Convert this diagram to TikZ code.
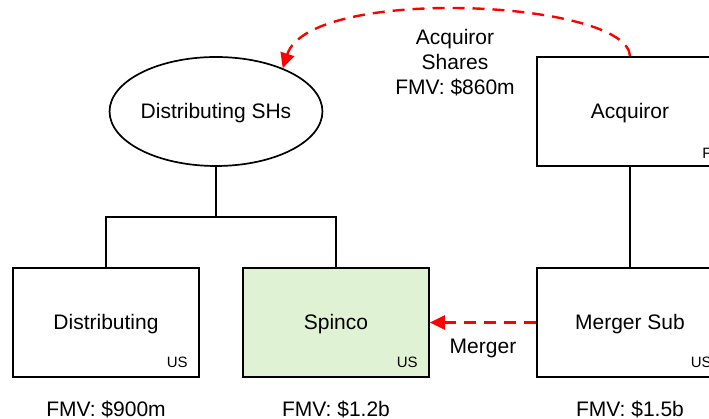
\documentclass[tikz,border=0pt]{standalone}
\usepackage{fontspec}
\setmainfont{Liberation Sans}
\usetikzlibrary{arrows.meta,shapes.geometric}
\definecolor{spingreen}{RGB}{223,242,211}
\begin{document}
\begin{tikzpicture}[x=1pt,y=-1pt,
  every node/.style={font=\fontsize{21}{25}\selectfont},
  entity/.style={draw,line width=1.7pt,minimum width=186pt,minimum height=109pt,inner sep=0pt,text height=15pt,text depth=0pt},
  tag/.style={anchor=south east,inner sep=0pt,font=\fontsize{15}{15}\selectfont},
  tree/.style={line width=1.9pt},
  move/.style={draw=red,line width=2.4pt,dash pattern=on 12pt off 8pt,-{Triangle[length=15pt,width=14pt]}}]
\useasboundingbox (0,0) rectangle (709,419);

\node[entity,ellipse] (shs) at (216,111.5) {Distributing SHs};
\node[entity] (acq) at (630,111.5) {Acquiror};
\node[entity] (dist) at (106,322.5) {Distributing};
\node[entity,fill=spingreen] (spin) at (336,322.5) {Spinco};
\node[entity] (msub) at (630,322.5) {Merger Sub};

\node[tag] (acqtag) at ([xshift=-12pt,yshift=8pt]acq.south east) {F};
\node[tag] (disttag) at ([xshift=-12pt,yshift=10pt]dist.south east) {US};
\node[tag] (spintag) at ([xshift=-12pt,yshift=10pt]spin.south east) {US};
\node[tag] (msubtag) at ([xshift=-12pt,yshift=10pt]msub.south east) {US};

\node (distfmv) at (106,409) {FMV: \$900m};
\node (spinfmv) at (336,409) {FMV: \$1.2b};
\node (msubfmv) at (630,409) {FMV: \$1.5b};

\coordinate (fork) at (216,217);
\draw[tree] (shs.south) -- (fork);
\draw[tree] (dist.north) |- (fork) -| (spin.north);
\draw[tree] (acq.south) -- (msub.north);

\draw[move] (acq.north) .. controls (628,0) and (310,-15) .. (shs.33);
\node[align=center] (shares) at (455,63) {Acquiror\\Shares\\FMV: \$860m};

\draw[move] (msub.west) -- (spin.east);
\node (merger) at (483,348) {Merger};
\end{tikzpicture}
\end{document}
